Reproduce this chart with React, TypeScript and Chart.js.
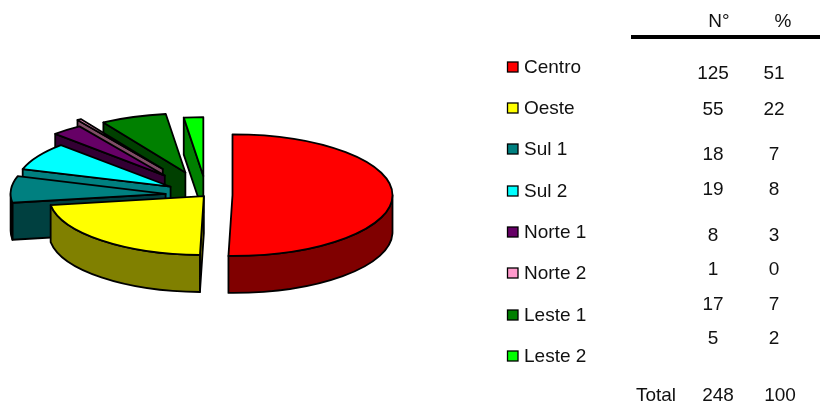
import React, { useEffect, useRef } from "react";
import { Chart, registerables } from "chart.js";

Chart.register(...registerables);

const categories = ["Centro", "Oeste", "Sul 1", "Sul 2", "Norte 1", "Norte 2", "Leste 1", "Leste 2"];
const counts = [125, 55, 18, 19, 8, 1, 17, 5];
const percents = [51, 22, 7, 8, 3, 0, 7, 2];
const totalRow = ["Total", "248", "100"];
const topColors = ["#FF0000", "#FFFF00", "#008080", "#00FFFF", "#660066", "#FF99CC", "#008000", "#00FF00"];
const sideColors = ["#800000", "#808000", "#004040", "#008080", "#330033", "#804D66", "#004000", "#008000"];

// layout
const explode = [26, 4, 41, 42, 66, 81, 63, 50];
const radii = [160, 155, 155, 155, 155, 155, 155, 155];
const PIE = { cx: 206.5, cy: 195, tilt: 0.38, depth: 37 };
const legendY = [67, 108, 149, 191, 232, 273, 315, 356];
const rowY = [74, 110, 155, 190, 236, 270, 305, 339];
const FONT = '19px "Liberation Sans", Arial, sans-serif';

const pie3d = {
  id: "pie3d",
  beforeDatasetDraw(chart: any) {
    const ctx: CanvasRenderingContext2D = chart.ctx;
    const arcs = chart.getDatasetMeta(0).data;
    ctx.save();
    ctx.lineWidth = 1.8;
    ctx.lineJoin = "round";
    ctx.strokeStyle = "#000";
    for (let i = arcs.length - 1; i >= 0; i--) {
      const arc = arcs[i];
      const { startAngle: a, endAngle: b, outerRadius } = arc.getProps(["startAngle", "endAngle", "outerRadius"], true);
      const scale = radii[i] / outerRadius;
      const rx = radii[i];
      const ry = radii[i] * PIE.tilt;
      const mid = (a + b) / 2;
      const ox = PIE.cx + explode[i] * Math.cos(mid);
      const oy = PIE.cy + explode[i] * Math.sin(mid) * PIE.tilt;
      const d = PIE.depth;
      const pt = (t: number) => [ox + rx * Math.cos(t), oy + ry * Math.sin(t)];
      const face = (t: number) => {
        const [px, py] = pt(t);
        ctx.beginPath();
        ctx.moveTo(ox, oy);
        ctx.lineTo(px, py);
        ctx.lineTo(px, py + d);
        ctx.lineTo(ox, oy + d);
        ctx.closePath();
        ctx.fillStyle = sideColors[i];
        ctx.fill();
        ctx.stroke();
      };
      if (Math.cos(a) < 0) face(a);
      if (Math.cos(b) > 0) face(b);
      const w0 = Math.max(a, 0);
      const w1 = Math.min(b, Math.PI);
      if (w1 > w0) {
        ctx.beginPath();
        ctx.ellipse(ox, oy, rx, ry, 0, w0, w1);
        ctx.ellipse(ox, oy + d, rx, ry, 0, w1, w0, true);
        ctx.closePath();
        ctx.fillStyle = sideColors[i];
        ctx.fill();
        ctx.stroke();
      }
      // top face: the library's own arc element, flattened
      ctx.save();
      ctx.translate(ox, oy);
      ctx.scale(scale, scale * PIE.tilt);
      ctx.translate(-arc.x, -arc.y);
      arc.draw(ctx);
      ctx.restore();
      ctx.beginPath();
      ctx.moveTo(ox, oy);
      ctx.ellipse(ox, oy, rx, ry, 0, a, b);
      ctx.closePath();
      ctx.stroke();
    }
    ctx.restore();
    return false;
  },
  afterDraw(chart: any) {
    const ctx: CanvasRenderingContext2D = chart.ctx;
    ctx.save();
    ctx.font = FONT;
    ctx.fillStyle = "#111";
    ctx.textBaseline = "middle";
    // legend
    chart.data.labels.forEach((label: string, i: number) => {
      ctx.fillStyle = topColors[i];
      ctx.strokeStyle = "#000";
      ctx.lineWidth = 1.3;
      ctx.fillRect(507.5, legendY[i] - 5, 10.5, 10);
      ctx.strokeRect(507.5, legendY[i] - 5, 10.5, 10);
      ctx.fillStyle = "#111";
      ctx.textAlign = "left";
      ctx.fillText(label, 524, legendY[i] + 1);
    });
    // table
    ctx.textAlign = "center";
    ctx.fillText("N°", 719, 22);
    ctx.fillText("%", 783, 22);
    ctx.fillStyle = "#000";
    ctx.fillRect(631, 35, 189, 4);
    ctx.fillStyle = "#111";
    counts.forEach((n, i) => {
      ctx.fillText(String(n), 713, rowY[i]);
      ctx.fillText(String(percents[i]), 774, rowY[i]);
    });
    ctx.fillText(totalRow[0], 656, 396);
    ctx.fillText(totalRow[1], 718, 396);
    ctx.fillText(totalRow[2], 780, 396);
    ctx.restore();
  },
};

export default function App() {
  const ref = useRef<HTMLCanvasElement>(null);
  useEffect(() => {
    document.body.style.margin = "0";
    const chart = new Chart(ref.current!, {
      type: "pie",
      data: {
        labels: categories,
        datasets: [{ data: counts, backgroundColor: topColors, borderWidth: 0 }],
      },
      options: {
        animation: false,
        responsive: false,
        layout: { padding: 0 },
        plugins: { legend: { display: false }, tooltip: { enabled: false } },
      },
      plugins: [pie3d],
    } as any);
    return () => chart.destroy();
  }, []);
  return <canvas ref={ref} width={828} height={404} style={{ display: "block" }} />;
}
